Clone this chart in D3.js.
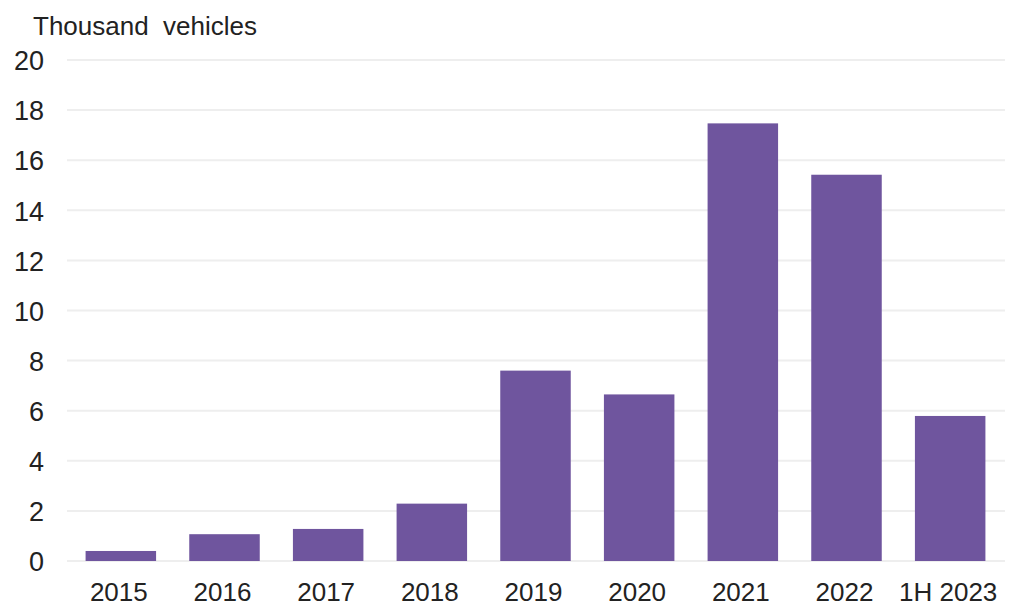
<!DOCTYPE html>
<html>
<head>
<meta charset="utf-8">
<script src="https://cdn.jsdelivr.net/npm/d3@7"></script>
<style>
  html, body { margin: 0; padding: 0; background: #fff; }
  svg { display: block; }
  text { font-family: "Liberation Sans", Arial, sans-serif; fill: #222; }
</style>
</head>
<body>
<svg id="chart" width="1012" height="606"></svg>
<script>
// Vehicles per period, thousands
const categories = ["2015", "2016", "2017", "2018", "2019", "2020", "2021", "2022", "1H 2023"];
const values = [0.4, 1.07, 1.28, 2.29, 7.6, 6.65, 17.47, 15.42, 5.79];
const yTicks = [0, 2, 4, 6, 8, 10, 12, 14, 16, 18, 20];
const unitLabel = "Thousand  vehicles";

const svg = d3.select("#chart");

const x = d3.scaleBand()
  .domain(categories)
  .range([69, 1002])
  .paddingInner(0.32)
  .paddingOuter(0.16);

const y = d3.scaleLinear()
  .domain([0, 20])
  .range([561, 60]);

// Horizontal gridlines
svg.append("g")
  .selectAll("line")
  .data(yTicks)
  .join("line")
  .attr("x1", 67)
  .attr("x2", 1005)
  .attr("y1", d => y(d))
  .attr("y2", d => y(d))
  .attr("stroke", "#eeeeee")
  .attr("stroke-width", 2);

// Y axis labels
const yAxis = d3.axisLeft(y).tickValues(yTicks).tickSize(0).tickPadding(0);
svg.append("g")
  .attr("transform", "translate(44,0)")
  .call(yAxis)
  .call(g => g.select(".domain").remove())
  .call(g => g.selectAll("text")
    .attr("font-size", 27)
    .attr("fill", "#222")
    .attr("dy", "0.36em")
    .style("font-family", "Liberation Sans, Arial, sans-serif"));

// Bars
svg.append("g")
  .selectAll("rect")
  .data(categories)
  .join("rect")
  .attr("x", d => x(d))
  .attr("width", x.bandwidth())
  .attr("y", (d, i) => y(values[i]))
  .attr("height", (d, i) => y(0) - y(values[i]))
  .attr("fill", "#6f559e");

// X axis labels
const xAxis = d3.axisBottom(x).tickSize(0).tickPadding(0);
svg.append("g")
  .attr("transform", "translate(-2,583)")
  .call(xAxis)
  .call(g => g.select(".domain").remove())
  .call(g => g.selectAll("text")
    .attr("font-size", 26)
    .attr("fill", "#222")
    .attr("dy", "0.71em")
    .style("font-family", "Liberation Sans, Arial, sans-serif"));

// Unit label
svg.append("text")
  .attr("x", 33)
  .attr("y", 35)
  .attr("font-size", 26)
  .attr("xml:space", "preserve")
  .style("white-space", "pre")
  .text(unitLabel);
</script>
</body>
</html>
